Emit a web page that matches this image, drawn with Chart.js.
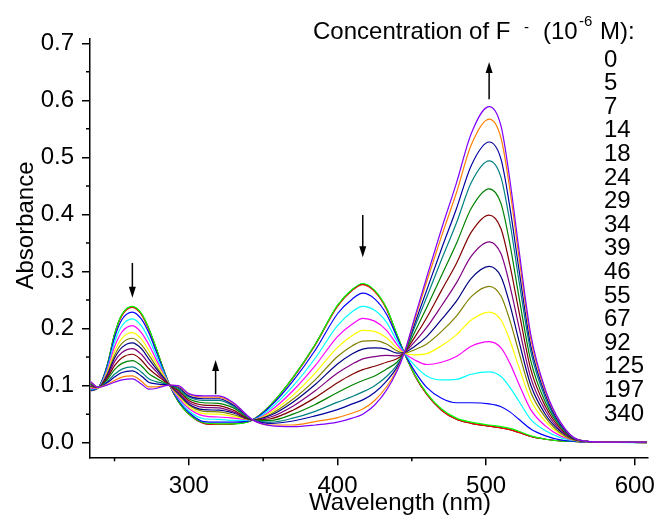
<!DOCTYPE html>
<html>
<head>
<meta charset="utf-8">
<script src="https://cdn.jsdelivr.net/npm/chart.js@4.4.0/dist/chart.umd.min.js"></script>
<style>
  html, body { margin: 0; padding: 0; background: #fff; }
  #wrap { width: 662px; height: 517px; }
</style>
</head>
<body>
<div id="wrap"><canvas id="chart" width="662" height="517"></canvas></div>
<script>
// wavelength grid (nm) and absorbance, one array per F- concentration
const wavelengths = [234, 239, 245, 250, 255, 262, 268, 273, 278, 283, 287, 293, 300, 310, 320, 330, 343, 355, 370, 385, 400, 410, 417, 425, 433, 440, 445, 452, 460, 470, 480, 490, 502, 510, 516, 522, 530, 540, 550, 562, 580, 608]

const abs0   = [0.091, 0.096, 0.135, 0.190, 0.224, 0.238, 0.226, 0.200, 0.165, 0.128, 0.101, 0.072, 0.050, 0.034, 0.032, 0.033, 0.040, 0.066, 0.114, 0.172, 0.240, 0.268, 0.278, 0.266, 0.235, 0.189, 0.157, 0.118, 0.085, 0.057, 0.041, 0.034, 0.029, 0.026, 0.023, 0.018, 0.011, 0.006, 0.003, 0.002, 0.001, 0.000]
const abs5   = [0.092, 0.096, 0.134, 0.189, 0.223, 0.237, 0.225, 0.199, 0.165, 0.128, 0.101, 0.072, 0.050, 0.034, 0.032, 0.033, 0.040, 0.066, 0.113, 0.171, 0.239, 0.267, 0.277, 0.265, 0.234, 0.188, 0.157, 0.118, 0.085, 0.057, 0.041, 0.034, 0.029, 0.026, 0.023, 0.018, 0.011, 0.006, 0.003, 0.002, 0.001, 0.000]
const abs7   = [0.092, 0.096, 0.135, 0.190, 0.225, 0.239, 0.227, 0.201, 0.166, 0.128, 0.101, 0.072, 0.050, 0.035, 0.033, 0.033, 0.040, 0.066, 0.114, 0.172, 0.241, 0.269, 0.279, 0.267, 0.236, 0.190, 0.157, 0.119, 0.087, 0.059, 0.043, 0.036, 0.031, 0.028, 0.025, 0.020, 0.012, 0.006, 0.003, 0.002, 0.001, 0.000]
const abs14  = [0.092, 0.096, 0.133, 0.184, 0.216, 0.229, 0.217, 0.193, 0.160, 0.126, 0.101, 0.074, 0.053, 0.037, 0.036, 0.036, 0.040, 0.064, 0.108, 0.162, 0.226, 0.252, 0.262, 0.252, 0.225, 0.185, 0.157, 0.125, 0.097, 0.078, 0.070, 0.070, 0.068, 0.063, 0.054, 0.041, 0.024, 0.012, 0.005, 0.002, 0.001, 0.000]
const abs18  = [0.094, 0.096, 0.129, 0.176, 0.205, 0.217, 0.205, 0.182, 0.153, 0.123, 0.101, 0.077, 0.056, 0.042, 0.041, 0.039, 0.040, 0.060, 0.099, 0.148, 0.205, 0.230, 0.239, 0.232, 0.211, 0.178, 0.157, 0.135, 0.117, 0.110, 0.111, 0.120, 0.124, 0.116, 0.097, 0.073, 0.041, 0.021, 0.009, 0.003, 0.001, 0.000]
const abs24  = [0.095, 0.096, 0.126, 0.168, 0.194, 0.205, 0.193, 0.172, 0.146, 0.120, 0.101, 0.079, 0.060, 0.047, 0.045, 0.043, 0.040, 0.056, 0.091, 0.135, 0.186, 0.208, 0.218, 0.213, 0.197, 0.172, 0.157, 0.145, 0.137, 0.141, 0.151, 0.169, 0.177, 0.166, 0.139, 0.103, 0.058, 0.029, 0.012, 0.003, 0.001, 0.000]
const abs29  = [0.097, 0.096, 0.123, 0.160, 0.183, 0.193, 0.182, 0.162, 0.140, 0.118, 0.101, 0.082, 0.063, 0.051, 0.050, 0.046, 0.040, 0.053, 0.083, 0.122, 0.167, 0.188, 0.197, 0.195, 0.184, 0.166, 0.157, 0.154, 0.156, 0.170, 0.189, 0.215, 0.229, 0.215, 0.179, 0.133, 0.075, 0.037, 0.015, 0.003, 0.001, 0.000]
const abs34  = [0.098, 0.096, 0.120, 0.153, 0.174, 0.183, 0.172, 0.154, 0.134, 0.115, 0.101, 0.084, 0.066, 0.055, 0.054, 0.049, 0.040, 0.050, 0.076, 0.110, 0.151, 0.170, 0.178, 0.179, 0.173, 0.161, 0.157, 0.163, 0.173, 0.195, 0.222, 0.256, 0.274, 0.257, 0.214, 0.159, 0.089, 0.044, 0.017, 0.003, 0.001, 0.000]
const abs39  = [0.099, 0.097, 0.118, 0.148, 0.167, 0.175, 0.165, 0.147, 0.130, 0.114, 0.101, 0.086, 0.068, 0.058, 0.057, 0.052, 0.040, 0.048, 0.071, 0.102, 0.138, 0.156, 0.164, 0.166, 0.164, 0.157, 0.158, 0.169, 0.186, 0.216, 0.248, 0.288, 0.309, 0.291, 0.242, 0.179, 0.101, 0.049, 0.020, 0.004, 0.001, 0.001]
const abs46  = [0.100, 0.097, 0.115, 0.142, 0.158, 0.165, 0.155, 0.139, 0.125, 0.111, 0.101, 0.088, 0.071, 0.062, 0.061, 0.054, 0.040, 0.045, 0.064, 0.091, 0.122, 0.138, 0.147, 0.151, 0.153, 0.152, 0.158, 0.177, 0.202, 0.240, 0.280, 0.327, 0.352, 0.331, 0.275, 0.204, 0.114, 0.056, 0.022, 0.004, 0.001, 0.001]
const abs55  = [0.102, 0.097, 0.113, 0.135, 0.149, 0.155, 0.145, 0.130, 0.119, 0.109, 0.101, 0.091, 0.074, 0.066, 0.065, 0.057, 0.040, 0.042, 0.057, 0.079, 0.105, 0.120, 0.128, 0.134, 0.141, 0.147, 0.158, 0.185, 0.219, 0.267, 0.314, 0.369, 0.399, 0.375, 0.311, 0.231, 0.129, 0.063, 0.025, 0.004, 0.001, 0.001]
const abs67  = [0.103, 0.097, 0.110, 0.128, 0.139, 0.144, 0.135, 0.121, 0.113, 0.106, 0.101, 0.093, 0.077, 0.070, 0.069, 0.061, 0.040, 0.039, 0.050, 0.067, 0.088, 0.101, 0.109, 0.117, 0.129, 0.141, 0.158, 0.194, 0.237, 0.293, 0.349, 0.411, 0.445, 0.419, 0.348, 0.257, 0.144, 0.070, 0.028, 0.004, 0.001, 0.001]
const abs92  = [0.104, 0.097, 0.107, 0.120, 0.129, 0.133, 0.124, 0.112, 0.107, 0.104, 0.101, 0.095, 0.080, 0.074, 0.074, 0.064, 0.040, 0.036, 0.043, 0.055, 0.071, 0.081, 0.089, 0.100, 0.116, 0.136, 0.158, 0.203, 0.255, 0.321, 0.385, 0.456, 0.494, 0.465, 0.386, 0.285, 0.160, 0.077, 0.030, 0.005, 0.001, 0.001]
const abs125 = [0.105, 0.097, 0.105, 0.115, 0.123, 0.126, 0.117, 0.106, 0.103, 0.102, 0.101, 0.097, 0.082, 0.077, 0.077, 0.066, 0.040, 0.034, 0.038, 0.047, 0.058, 0.068, 0.075, 0.088, 0.108, 0.132, 0.158, 0.209, 0.267, 0.340, 0.410, 0.486, 0.527, 0.497, 0.412, 0.305, 0.170, 0.083, 0.032, 0.005, 0.001, 0.001]
const abs197 = [0.106, 0.097, 0.102, 0.109, 0.115, 0.117, 0.108, 0.098, 0.098, 0.100, 0.101, 0.099, 0.085, 0.080, 0.080, 0.069, 0.040, 0.031, 0.031, 0.037, 0.044, 0.052, 0.059, 0.074, 0.098, 0.128, 0.158, 0.216, 0.282, 0.362, 0.438, 0.522, 0.567, 0.534, 0.443, 0.327, 0.183, 0.089, 0.035, 0.005, 0.001, 0.001]
const abs340 = [0.107, 0.097, 0.101, 0.106, 0.110, 0.112, 0.103, 0.094, 0.095, 0.099, 0.101, 0.100, 0.086, 0.082, 0.082, 0.070, 0.040, 0.030, 0.028, 0.031, 0.036, 0.043, 0.050, 0.066, 0.092, 0.125, 0.158, 0.220, 0.290, 0.375, 0.455, 0.542, 0.589, 0.555, 0.460, 0.340, 0.190, 0.092, 0.036, 0.005, 0.001, 0.001]

const concentrations = ["0", "5", "7", "14", "18", "24", "29", "34", "39", "46", "55", "67", "92", "125", "197", "340"]
const spectra = [abs0, abs5, abs7, abs14, abs18, abs24, abs29, abs34, abs39, abs46, abs55, abs67, abs92, abs125, abs197, abs340]

const xTicks = [300, 400, 500, 600]
const xMinor = [250, 350, 450, 550]
const yTicks = [0.0, 0.1, 0.2, 0.3, 0.4, 0.5, 0.6, 0.7]
const yMinor = [0.05, 0.15, 0.25, 0.35, 0.45, 0.55, 0.65]

// arrows: [wavelength, from absorbance, to absorbance]
const arrows = [[262, 0.315, 0.254], [318, 0.085, 0.145], [417, 0.399, 0.325], [502, 0.602, 0.667]]

// Origin default colour cycle
const colors = ["#000000", "#FF0000", "#00FF00", "#0000FF", "#00FFFF", "#FF00FF", "#FFFF00", "#808000",
                "#000080", "#800080", "#800000", "#008000", "#008080", "#0000A0", "#FF8000", "#8000FF"]

const fam = "'Liberation Sans', Arial, sans-serif"

const decorations = {
    id: 'decorations',
    afterDraw(chart) {
        const {ctx, chartArea: a, scales: {x, y}} = chart
        ctx.save()
        ctx.strokeStyle = '#000'
        ctx.fillStyle = '#000'
        ctx.lineWidth = 1.5
        // minor ticks
        ctx.beginPath()
        yMinor.forEach(v => {
            const py = y.getPixelForValue(v)
            ctx.moveTo(a.left - 4, py)
            ctx.lineTo(a.left, py)
        })
        xMinor.forEach(v => {
            const px = x.getPixelForValue(v)
            ctx.moveTo(px, a.bottom)
            ctx.lineTo(px, a.bottom + 4)
        })
        ctx.stroke()
        // arrows
        arrows.forEach(([wl, from, to]) => {
            const px = x.getPixelForValue(wl)
            const y0 = y.getPixelForValue(from)
            const y1 = y.getPixelForValue(to)
            const dir = Math.sign(y1 - y0)
            ctx.beginPath()
            ctx.moveTo(px, y0)
            ctx.lineTo(px, y1 - dir * 8)
            ctx.stroke()
            ctx.beginPath()
            ctx.moveTo(px, y1)
            ctx.lineTo(px - 3.5, y1 - dir * 11)
            ctx.lineTo(px + 3.5, y1 - dir * 11)
            ctx.closePath()
            ctx.fill()
        })
        // legend heading
        ctx.textAlign = 'left'
        ctx.textBaseline = 'alphabetic'
        ctx.font = `24px ${fam}`
        ctx.fillText('Concentration of F', 313, 39)
        ctx.font = `15px ${fam}`
        ctx.fillText('-', 524, 32)
        ctx.font = `24px ${fam}`
        ctx.fillText('(10', 543, 39)
        ctx.font = `15px ${fam}`
        ctx.fillText('-6', 579, 26)
        ctx.font = `24px ${fam}`
        ctx.fillText('M):', 600, 39)
        // legend values
        concentrations.forEach((c, i) => ctx.fillText(c, 604, 66.6 + i * 23.6))
        // axis titles
        ctx.textAlign = 'center'
        ctx.fillText('Wavelength (nm)', 400, 510)
        ctx.translate(33, 225.5)
        ctx.rotate(-Math.PI / 2)
        ctx.fillText('Absorbance', 0, 0)
        ctx.restore()
    }
}

new Chart(document.getElementById('chart'), {
    type: 'line',
    data: {
        datasets: spectra.map((s, i) => ({
            label: concentrations[i],
            data: s.map((v, j) => ({x: wavelengths[j], y: v})),
            borderColor: colors[i],
            borderWidth: 1.2,
            pointRadius: 0,
            fill: false,
            cubicInterpolationMode: 'monotone',
            order: spectra.length - i
        }))
    },
    options: {
        responsive: false,
        animation: false,
        devicePixelRatio: 1,
        layout: {padding: {left: 0, top: 39, right: 8.3, bottom: 0}},
        plugins: {legend: {display: false}, tooltip: {enabled: false}},
        scales: {
            x: {
                type: 'linear',
                min: 233.5,
                max: 608.5,
                afterBuildTicks: s => { s.ticks = xTicks.map(v => ({value: v})) },
                afterFit: s => { s.height = 59.7 },
                grid: {drawOnChartArea: false, color: '#000', lineWidth: 1.5, tickLength: 8},
                border: {color: '#000', width: 1.5},
                ticks: {color: '#000', font: {family: fam, size: 24}, padding: 7, maxRotation: 0,
                        callback: v => String(v)}
            },
            y: {
                min: -0.0256,
                max: 0.7075,
                afterBuildTicks: s => { s.ticks = yTicks.map(v => ({value: v})) },
                afterFit: s => { s.width = 90 },
                grid: {drawOnChartArea: false, color: '#000', lineWidth: 1.5, tickLength: 8},
                border: {color: '#000', width: 1.5},
                ticks: {color: '#000', font: {family: fam, size: 24}, padding: 8,
                        callback: v => v.toFixed(1)}
            }
        }
    },
    plugins: [decorations]
})
</script>
</body>
</html>
